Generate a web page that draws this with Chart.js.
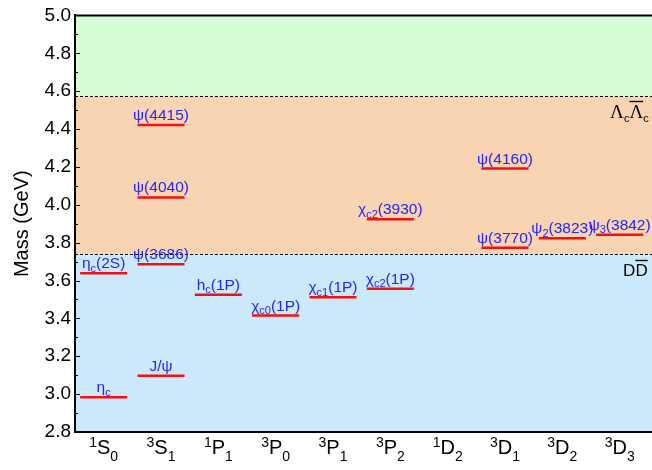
<!DOCTYPE html>
<html>
<head>
<meta charset="utf-8">
<script src="https://cdn.jsdelivr.net/npm/chart.js@4/dist/chart.umd.min.js"></script>
<style>
  html, body { margin: 0; padding: 0; background: #fff; overflow: hidden; width: 652px; height: 470px; }
  #wrap { position: relative; width: 690px; height: 470px; }
</style>
</head>
<body>
<div id="wrap"><canvas id="c" width="690" height="470"></canvas></div>
<script>
// Spectroscopic terms on the x axis (markup: ^ superscript, _ subscript, ~ overlined char)
const terms = ['^1S_0', '^3S_1', '^1P_1', '^3P_0', '^3P_1', '^3P_2', '^1D_2', '^3D_1', '^3D_2', '^3D_3'];

// Charmonium states: label, term index, mass in GeV
const stateNames  = ['η_c', 'η_c(2S)', 'J/ψ', 'ψ(3686)', 'ψ(4040)', 'ψ(4415)', 'h_c(1P)',
                     'χ_{c0}(1P)', 'χ_{c1}(1P)', 'χ_{c2}(1P)', 'χ_{c2}(3930)',
                     'ψ(3770)', 'ψ(4160)', 'ψ_2(3823)', 'ψ_3(3842)'];
const stateTerms  = [0, 0, 1, 1, 1, 1, 2, 3, 4, 5, 5, 7, 7, 8, 9];
const stateMasses = [2.984, 3.638, 3.097, 3.686, 4.039, 4.421, 3.525,
                     3.415, 3.511, 3.556, 3.923,
                     3.773, 4.191, 3.823, 3.842];

// Open-flavour thresholds in GeV
const thresholdNames  = ['D~D', 'Λ_c~Λ_c'];
const thresholdMasses = [3.739, 4.573];

// Mass axis range and step
const massMin = 2.8, massMax = 5.0, massStep = 0.2;

const SANS = "'Liberation Sans', Arial, Helvetica, sans-serif";
const SERIF = "'Liberation Serif', 'Times New Roman', serif";
const bandColors = ['#cce9fc', '#f9d4b2', '#d6fdd6'];
const levelHalfWidth = 0.41;

// One polyline with gaps: each level is a short horizontal segment
const levelPoints = [];
stateMasses.forEach((m, i) => {
  const t = stateTerms[i];
  levelPoints.push({ x: t - levelHalfWidth, y: m }, { x: t + levelHalfWidth, y: m }, { x: t, y: null });
});

function parseRich(str) {
  const out = [];
  let i = 0;
  while (i < str.length) {
    let kind = 'n';
    if (str[i] === '^' || str[i] === '_' || str[i] === '~') { kind = str[i]; i++; }
    let t;
    if (str[i] === '{') { const j = str.indexOf('}', i); t = str.slice(i + 1, j); i = j + 1; }
    else { t = str[i]; i++; }
    const last = out[out.length - 1];
    if (kind === 'n' && last && last.kind === 'n') last.t += t;
    else out.push({ kind, t });
  }
  return out;
}

function drawRich(ctx, str, x, y, o) {
  const parts = parseRich(str);
  const fam = o.family || SANS;
  const subFam = o.subFamily || fam;
  const fontFor = p => (p.kind === '^' || p.kind === '_')
    ? o.subSize + 'px ' + subFam : o.size + 'px ' + fam;
  let total = 0;
  parts.forEach(p => { ctx.font = fontFor(p); p.w = ctx.measureText(p.t).width; total += p.w; });
  let cx = o.align === 'right' ? x - total : x - total / 2;
  ctx.fillStyle = o.color;
  ctx.strokeStyle = o.color;
  ctx.textAlign = 'left';
  ctx.textBaseline = 'alphabetic';
  parts.forEach(p => {
    ctx.font = fontFor(p);
    let by = y;
    if (p.kind === '^') by = y - o.supShift;
    if (p.kind === '_') by = y + o.subShift;
    ctx.fillText(p.t, cx, by);
    if (p.kind === '~') {
      const oy = Math.round(y - o.size * 0.72 - 4) + 0.5;
      ctx.lineWidth = 1.4;
      ctx.beginPath();
      ctx.moveTo(cx, oy);
      ctx.lineTo(cx + p.w, oy);
      ctx.stroke();
    }
    cx += p.w;
  });
}

const spectrumPlugin = {
  id: 'spectrum',
  beforeDraw(chart) {
    const { ctx, chartArea: a, scales: { y } } = chart;
    const edges = [massMin, ...thresholdMasses, massMax].map(v => y.getPixelForValue(v));
    ctx.save();
    for (let i = 0; i < bandColors.length; i++) {
      ctx.fillStyle = bandColors[i];
      ctx.fillRect(a.left, edges[i + 1], a.right - a.left, edges[i] - edges[i + 1]);
    }
    ctx.restore();
  },
  beforeDatasetsDraw(chart) {
    const { ctx, chartArea: a, scales: { x, y } } = chart;
    ctx.save();
    // threshold lines
    ctx.strokeStyle = '#000';
    ctx.lineWidth = 1;
    ctx.setLineDash([3, 2]);
    thresholdMasses.forEach(m => {
      const py = Math.round(y.getPixelForValue(m)) + 0.5;
      ctx.beginPath();
      ctx.moveTo(a.left, py);
      ctx.lineTo(a.right, py);
      ctx.stroke();
    });
    ctx.setLineDash([]);
    // threshold labels
    const rx = x.getPixelForValue(terms.length - 1) + 30;
    thresholdNames.forEach((n, i) => {
      const py = y.getPixelForValue(thresholdMasses[i]) + 22;
      const isLambda = n.startsWith('Λ');
      drawRich(ctx, n, isLambda ? rx - 1 : rx - 2, py, {
        size: isLambda ? 19 : 17, subSize: 11, supShift: 0, subShift: 4,
        family: isLambda ? SERIF : SANS, subFamily: SANS,
        color: '#000', align: 'right'
      });
    });
    ctx.restore();
  },
  afterDatasetsDraw(chart) {
    const { ctx, scales: { x, y } } = chart;
    ctx.save();
    stateNames.forEach((n, i) => {
      const px = x.getPixelForValue(stateTerms[i]);
      const py = y.getPixelForValue(stateMasses[i]) - 5;
      drawRich(ctx, n, px, py, { size: 15.5, subSize: 11, supShift: 5, subShift: 3.5, color: '#2626ee' });
    });
    ctx.restore();
  },
  afterDraw(chart) {
    const { ctx, chartArea: a, scales: { x, y } } = chart;
    ctx.save();
    // frame top
    ctx.strokeStyle = '#000';
    ctx.lineWidth = 2;
    ctx.beginPath();
    ctx.moveTo(a.left - 1, a.top);
    ctx.lineTo(a.right, a.top);
    ctx.stroke();
    // inward ticks on the mass axis
    ctx.lineWidth = 1;
    const n = Math.round((massMax - massMin) / 0.1);
    for (let k = 0; k <= n; k++) {
      const py = Math.round(y.getPixelForValue(massMin + k * 0.1)) + 0.5;
      const len = k % 2 === 0 ? 5 : 3;
      ctx.beginPath();
      ctx.moveTo(a.left, py);
      ctx.lineTo(a.left + len, py);
      ctx.stroke();
    }
    // term labels
    terms.forEach((t, i) => {
      const px = x.getPixelForValue(i);
      drawRich(ctx, t, px, a.bottom + 22, { size: 20, subSize: 14, supShift: 7, subShift: 7, color: '#000' });
    });
    ctx.restore();
  }
};

new Chart(document.getElementById('c'), {
  type: 'scatter',
  data: {
    datasets: [{
      data: levelPoints,
      showLine: true,
      spanGaps: false,
      borderColor: '#f21010',
      borderWidth: 2.5,
      pointRadius: 0,
      pointHoverRadius: 0
    }]
  },
  options: {
    responsive: false,
    animation: false,
    events: [],
    layout: { padding: { top: 9, right: 13, bottom: 0, left: 0 } },
    plugins: { legend: { display: false }, tooltip: { enabled: false } },
    scales: {
      x: {
        type: 'linear', min: -0.5, max: 10,
        grid: { display: false, drawTicks: false },
        border: { display: true, color: '#000', width: 2 },
        ticks: { display: false },
        afterFit(s) { s.height = 38; }
      },
      y: {
        min: massMin, max: massMax,
        grid: { display: false, drawTicks: false },
        border: { display: true, color: '#000', width: 2 },
        ticks: {
          stepSize: massStep, padding: 4, color: '#000',
          font: { size: 19, family: SANS },
          callback: v => v.toFixed(1)
        },
        title: {
          display: true, text: 'Mass (GeV)', color: '#000',
          font: { size: 20, family: SANS }, padding: { top: 10, bottom: 0 }
        },
        afterFit(s) { s.width = 75; }
      }
    }
  },
  plugins: [spectrumPlugin]
});
</script>
</body>
</html>
